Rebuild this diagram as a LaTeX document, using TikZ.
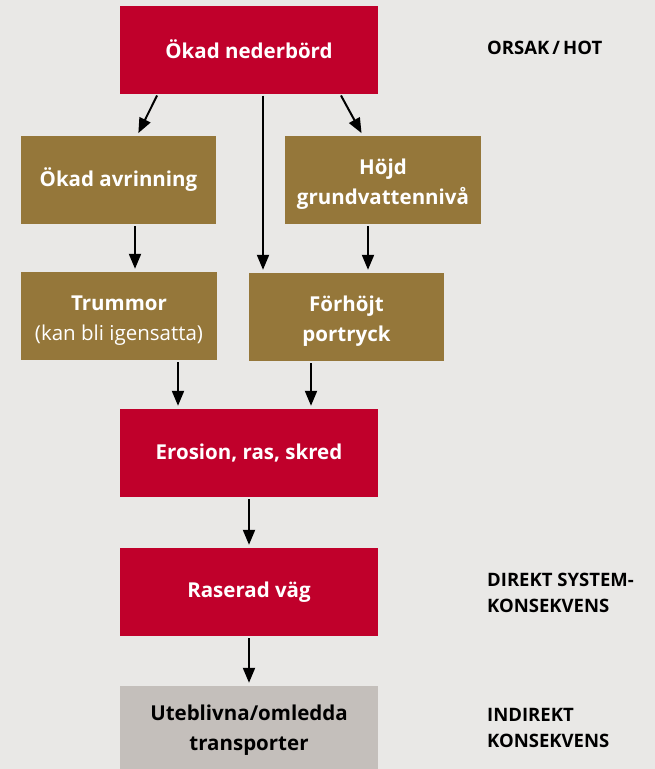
\documentclass[tikz,border=0pt]{standalone}
\usepackage{fontspec}
\setmainfont{Open Sans}
\usetikzlibrary{arrows.meta,calc}
\definecolor{bgc}{HTML}{E9E8E6}
\definecolor{redc}{HTML}{C0002B}
\definecolor{brownc}{HTML}{95773A}
\definecolor{greyc}{HTML}{C4BFBB}
\newcommand{\firststrut}{\rule{0pt}{24pt}}
\begin{document}
\begin{tikzpicture}[x=1pt,y=-1pt,
  box/.style={minimum width=#1, minimum height=88pt, inner sep=0pt, align=center,
    font=\fontsize{20.5}{29.5}\selectfont\bfseries},
  redbox/.style={box=258pt, fill=redc, text=white},
  brownbox/.style={box=#1, fill=brownc, text=white},
  greybox/.style={box=258pt, fill=greyc, text=black},
  lbl/.style={anchor=west, align=left, inner sep=0pt, font=\fontsize{18.5}{26.5}\selectfont\bfseries},
  arr/.style={line width=2pt, -{Triangle[width=12pt,length=15pt]}, shorten >=3pt, shorten <=2pt}]
\fill[bgc] (0,0) rectangle (655,769);
\useasboundingbox (0,0) rectangle (655,769);
\node[redbox] (top) at (249,49.5) {Ökad nederbörd};
\node[brownbox=195pt] (avr) at (118.5,180) {Ökad avrinning};
\node[brownbox=196pt] (hojd) at (383,180) {\firststrut Höjd\\grundvattennivå};
\node[brownbox=196pt] (trum) at (119,316) {\firststrut Trummor\\{\mdseries(kan bli igensatta)}};
\node[brownbox=195pt] (forh) at (346.5,317) {\firststrut Förhöjt\\portryck};
\node[redbox] (eros) at (249,453) {Erosion, ras, skred};
\node[redbox] (rasd) at (249,592) {Raserad väg};
\begin{scope}
\clip (0,0) rectangle (655,769);
\node[greybox] (uteb) at (249,730) {Uteblivna/omledda\\transporter};
\end{scope}
\node[lbl] (l1) at (487,48) {ORSAK\,/\,HOT};
\node[lbl] (l2) at (487,593) {DIREKT SYSTEM-\\KONSEKVENS};
\node[lbl] (l3) at (487,728) {INDIREKT\\KONSEKVENS};
\draw[arr] ([xshift=-91pt]top.south) -- ([xshift=18.5pt]avr.north);
\draw[arr] ([xshift=91pt]top.south) -- ([xshift=-20pt]hojd.north);
\draw[arr] ([xshift=14pt]top.south) -- ([xshift=14pt]top.south |- forh.north);
\draw[arr] ([xshift=16.5pt]avr.south) -- ([xshift=16.5pt]avr.south |- trum.north);
\draw[arr] ([xshift=-15pt]hojd.south) -- ([xshift=-15pt]hojd.south |- forh.north);
\draw[arr] ([xshift=59pt]trum.south) -- ([xshift=59pt]trum.south |- eros.north);
\draw[arr] ([xshift=-35.5pt]forh.south) -- ([xshift=-35.5pt]forh.south |- eros.north);
\draw[arr] (eros.south) -- (rasd.north);
\draw[arr] (rasd.south) -- (uteb.north);
\end{tikzpicture}
\end{document}
